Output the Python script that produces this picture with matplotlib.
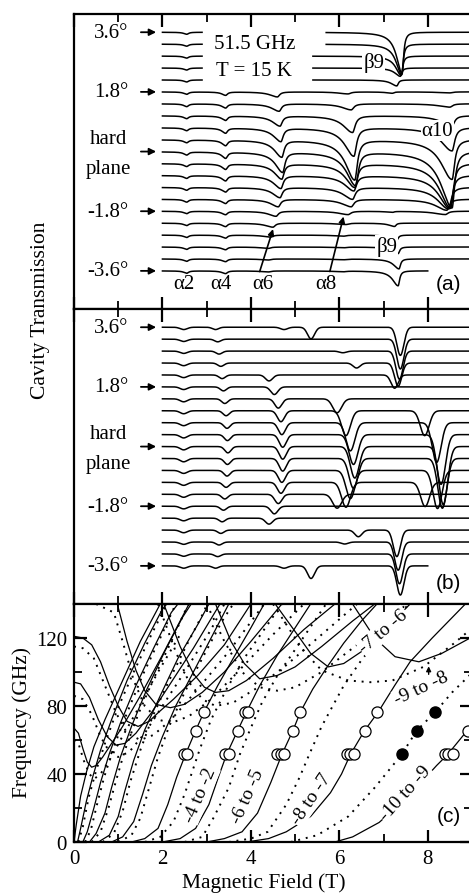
import numpy as np
import matplotlib.pyplot as plt

plt.rcParams['font.family'] = ['Liberation Serif', 'DejaVu Serif']
plt.rcParams['font.size'] = 15

# tilt angle of each trace (deg), top to bottom
angles = [3.6, 3.24, 2.88, 2.52, 2.16, 1.8, 1.44, 1.08, 0.72, 0.36, 0.0,
          -0.36, -0.72, -1.08, -1.44, -1.8, -2.16, -2.52, -2.88, -3.24, -3.6]
side_labels = ["3.6°", "1.8°", "-1.8°", "-3.6°"]
side_angles = [3.6, 1.8, -1.8, -3.6]

# ---- panel (a): measured spectra, dip centre (T) and depth (deg units) per trace
a_a2_B = [2.55] * 21
a_a2_d = [0.06, 0.06, 0.06, 0.06, 0.06, 0.07, 0.08, 0.08, 0.08, 0.08, 0.09,
          0.08, 0.08, 0.08, 0.08, 0.07, 0.07, 0.07, 0.07, 0.07, 0.07]
a_a4_B = [3.43] * 21
a_a4_d = [0, 0, 0, 0, 0, 0.10, 0.12, 0.13, 0.15, 0.16, 0.18,
          0.16, 0.15, 0.13, 0.12, 0.10, 0.10, 0.09, 0.08, 0.08, 0.08]
a_a6_B = [4.5, 4.5, 4.5, 4.5, 4.55, 4.6, 4.64, 4.66, 4.68, 4.7, 4.72,
          4.7, 4.68, 4.66, 4.62, 4.57, 4.5, 4.45, 4.4, 4.4, 4.4]
a_a6_d = [0, 0, 0, 0, 0, 0.15, 0.22, 0.3, 0.4, 0.5, 0.6,
          0.45, 0.38, 0.3, 0.22, 0.15, 0.12, 0.06, 0.04, 0.03, 0.03]
a_a8_B = [6.2, 6.2, 6.2, 6.2, 6.2, 6.2, 6.27, 6.3, 6.33, 6.35, 6.37,
          6.35, 6.33, 6.3, 6.27, 6.2, 6.15, 6.1, 6.1, 6.1, 6.1]
a_a8_d = [0, 0, 0, 0, 0, 0.06, 0.18, 0.5, 0.85, 1.2, 1.0,
          0.7, 0.45, 0.35, 0.22, 0.1, 0.04, 0.03, 0.02, 0.02, 0.02]
a_b9_B = [7.42, 7.41, 7.4, 7.38, 7.3, 7.2, 7.2, 7.2, 7.2, 7.2, 7.2,
          7.2, 7.2, 7.2, 7.2, 7.2, 7.25, 7.3, 7.33, 7.35, 7.33]
a_b9_d = [1.25, 0.92, 0.58, 0.25, 0.18, 0.04, 0, 0, 0, 0, 0,
          0, 0, 0, 0, 0.03, 0.1, 0.15, 0.2, 0.3, 0.45]
a_a10_B = [8.5, 8.5, 8.5, 8.5, 8.5, 8.5, 8.5, 8.55, 8.55, 8.55, 8.55,
           8.52, 8.5, 8.47, 8.43, 8.4, 8.4, 8.4, 8.4, 8.4, 8.4]
a_a10_d = [0, 0, 0, 0, 0, 0.03, 0.1, 0.3, 0.7, 1.2, 1.7,
           1.35, 1.0, 0.65, 0.33, 0.1, 0, 0, 0, 0, 0]
a_widths = [(0.08, 0.05), (0.1, 0.05), (0.2, 0.06), (0.25, 0.07), (0.15, 0.04), (0.3, 0.07)]
a_gap_start = [2.9, 2.9, 2.9, 2.9, 2.9]
a_gap_end = [5.7, 5.7, 5.4, 5.4, 5.4]
last_trace_end = 8.0

# ---- panel (b): simulated spectra
b_a2_B = [2.48] * 21
b_a2_d = [0.07, 0.07, 0.07, 0.08, 0.08, 0.08, 0.09, 0.09, 0.09, 0.1, 0.1,
          0.1, 0.09, 0.09, 0.09, 0.08, 0.08, 0.08, 0.07, 0.07, 0.07]
b_a4_B = [3.2, 3.25, 3.28, 3.32, 3.35, 3.38, 3.41, 3.44, 3.46, 3.47, 3.48,
          3.47, 3.46, 3.44, 3.41, 3.38, 3.35, 3.32, 3.28, 3.25, 3.2]
b_a4_d = [0.07, 0.08, 0.09, 0.1, 0.11, 0.12, 0.14, 0.15, 0.17, 0.18, 0.19,
          0.18, 0.17, 0.15, 0.14, 0.12, 0.11, 0.1, 0.09, 0.08, 0.07]
b_a6_B = [4.75, 4.7, 4.7, 4.7, 4.41, 4.53, 4.62, 4.68, 4.7, 4.72, 4.72,
          4.72, 4.7, 4.68, 4.62, 4.53, 4.41, 4.7, 4.7, 4.7, 4.75]
b_a6_d = [0.07, 0, 0, 0, 0.18, 0.23, 0.28, 0.33, 0.36, 0.38, 0.38,
          0.38, 0.36, 0.33, 0.28, 0.23, 0.18, 0, 0, 0, 0.07]
b_x_B = [5.36, 5.7, 6.08, 6.39, 6.4, 6.4, 6.4, 6.4, 6.4, 6.4, 6.4,
         6.4, 6.4, 6.4, 6.4, 6.4, 6.4, 6.43, 6.12, 5.7, 5.36]
b_x_d = [0.35, 0, 0.05, 0.15, 0, 0, 0, 0, 0, 0, 0,
         0, 0, 0, 0, 0, 0, 0.2, 0.06, 0, 0.38]
b_a8_B = [6.3, 6.3, 6.3, 6.3, 6.3, 6.3, 5.95, 6.15, 6.25, 6.32, 6.35,
          6.32, 6.25, 6.15, 5.95, 6.3, 6.3, 6.3, 6.3, 6.3, 6.3]
b_a8_d = [0, 0, 0, 0, 0, 0, 0.42, 0.75, 0.85, 0.9, 0.95,
          0.9, 0.85, 0.75, 0.42, 0, 0, 0, 0, 0, 0]
b_a10_B = [8.3, 8.3, 8.3, 8.3, 8.3, 8.3, 8.3, 7.93, 8.2, 8.3, 8.35,
           8.33, 8.22, 7.94, 8.3, 8.3, 8.3, 8.3, 8.3, 8.3, 8.3]
b_a10_d = [0, 0, 0, 0, 0, 0, 0, 0.75, 1.2, 1.5, 1.75,
           1.5, 1.15, 0.73, 0, 0, 0, 0, 0, 0, 0]
b_b9_B = [7.38, 7.38, 7.36, 7.33, 7.25, 7.3, 7.3, 7.3, 7.3, 7.3, 7.3,
          7.3, 7.3, 7.3, 7.3, 7.3, 7.25, 7.3, 7.33, 7.36, 7.38]
b_b9_d = [0.85, 0.9, 0.85, 0.7, 0.4, 0, 0, 0, 0, 0, 0,
          0, 0, 0, 0, 0, 0, 0.8, 0.85, 0.9, 0.88]
b_widths = [0.08, 0.07, 0.08, 0.08, 0.1, 0.1, 0.08]

# ---- panel (c): transition frequencies (T, GHz)
solid_rise_B = [
    [5.9, 6.3, 6.9, 7.4, 7.85, 8.2, 8.45, 8.89, 9.1],
    [3.9, 4.4, 4.8, 5.35, 5.8, 6.05, 6.25, 6.57, 6.88, 7.25, 7.6, 8.1, 8.85],
    [3.0, 3.4, 3.8, 4.15, 4.45, 4.7, 4.95, 5.12, 5.4, 5.75, 6.1, 6.5, 6.85],
    [2.0, 2.4, 2.75, 3.05, 3.25, 3.45, 3.7, 3.9, 4.2, 4.6, 5.0, 5.35],
    [1.3, 1.6, 1.9, 2.12, 2.32, 2.52, 2.75, 2.94, 3.25, 3.6, 4.0, 4.3],
    [0.85, 1.1, 1.35, 1.55, 1.75, 2.0, 2.3, 2.7, 3.1, 3.5],
    [0.55, 0.8, 1.0, 1.15, 1.35, 1.6, 1.95, 2.35, 2.8, 3.05],
    [0.35, 0.5, 0.7, 0.85, 1.05, 1.3, 1.65, 2.05, 2.45, 2.65],
    [0.2, 0.3, 0.45, 0.6, 0.8, 1.05, 1.4, 1.8, 2.2, 2.35],
    [0.08, 0.15, 0.28, 0.42, 0.6, 0.85, 1.2, 1.6, 2.0, 2.1],
    [0.0, 0.05, 0.15, 0.28, 0.45, 0.7, 1.1, 1.5, 1.95],
]
solid_rise_f = [
    [0, 3, 11.5, 23, 35, 45, 51.5, 65.5, 72],
    [0, 2, 6, 15, 29, 40, 51.5, 65.5, 76.5, 92, 106, 120, 140],
    [0, 2, 6, 17, 35, 51.5, 65.5, 76.5, 90, 104, 117, 130, 140],
    [0, 2, 8, 22, 37, 51.5, 65.5, 76.5, 92, 110, 126, 140],
    [0, 2, 8, 22, 38, 51.5, 65.5, 76.5, 92, 108, 126, 140],
    [0, 3, 12, 28, 45, 62, 80, 100, 120, 140],
    [0, 4, 15, 30, 48, 66, 86, 108, 128, 140],
    [0, 5, 17, 32, 50, 68, 90, 112, 132, 140],
    [0, 6, 20, 35, 52, 70, 92, 114, 135, 140],
    [0, 8, 24, 38, 54, 72, 95, 117, 137, 140],
    [0, 10, 27, 41, 56, 72, 95, 118, 140],
]
dot_rise_B = [
    [4.9, 5.5, 6.2, 6.8, 7.41, 7.75, 8.17, 8.55, 9.1],
    [3.5, 4.0, 4.38, 4.8, 5.1, 5.32, 5.6, 5.85, 6.1, 6.5, 7.0, 7.5],
    [2.5, 2.9, 3.15, 3.5, 3.75, 3.98, 4.25, 4.6, 5.1, 5.7],
    [1.6, 1.95, 2.25, 2.5, 2.72, 2.85, 3.1, 3.45, 3.9, 4.7],
    [1.0, 1.3, 1.5, 1.7, 1.9, 2.15, 2.5, 2.9, 3.35, 3.6],
    [0.65, 0.9, 1.1, 1.28, 1.5, 1.78, 2.15, 2.55, 2.95, 3.0],
    [0.4, 0.6, 0.78, 0.95, 1.15, 1.45, 1.8, 2.2, 2.55, 2.6],
    [0.25, 0.38, 0.52, 0.68, 0.9, 1.2, 1.55, 1.95, 2.3],
    [0.1, 0.2, 0.33, 0.5, 0.7, 0.98, 1.35, 1.75, 2.1],
]
dot_rise_f = [
    [0, 4, 15, 32, 51.5, 65.5, 76.5, 88, 102],
    [0, 2, 6, 22, 38, 51.5, 68, 80, 92, 107, 123, 140],
    [0, 3, 14, 32, 51.5, 66, 82, 98, 117, 140],
    [0, 3, 12, 28, 45, 55, 72, 90, 110, 140],
    [0, 4, 14, 32, 50, 68, 88, 108, 130, 140],
    [0, 5, 18, 36, 54, 74, 95, 116, 136, 140],
    [0, 6, 20, 36, 54, 75, 96, 118, 138, 140],
    [0, 7, 22, 38, 56, 76, 98, 120, 140],
    [0, 9, 26, 42, 58, 78, 100, 122, 140],
]
solid_u_B = [
    [0, 0.1, 0.2, 0.3, 0.4, 0.5, 0.65, 0.85, 1.1, 1.5, 2.0, 2.6],
    [0, 0.15, 0.35, 0.55, 0.75, 0.95, 1.15, 1.4, 1.75, 2.2, 2.7, 3.3],
    [0, 0.2, 0.4, 0.6, 0.8, 1.0, 1.2, 1.45, 1.7, 1.9, 2.25, 2.8, 3.4, 4.0],
    [0.98, 1.2, 1.4, 1.6, 1.85, 2.18, 2.5, 2.9, 3.4, 4.0, 4.7],
    [2.03, 2.4, 2.7, 2.95, 3.2, 3.5, 3.9, 4.5, 5.2, 5.9],
    [3.2, 3.55, 3.85, 4.2, 4.6, 5.0, 5.6, 6.3, 6.8],
    [4.55, 5.05, 5.35, 5.75, 6.1, 6.5, 7.0, 7.6],
    [6.3, 6.8, 7.26, 7.8, 8.32, 9.1],
]
solid_u_f = [
    [67, 64, 55, 47, 44, 45, 50, 58, 68, 86, 110, 140],
    [94, 93, 85, 72, 62, 57, 58, 64, 76, 94, 114, 140],
    [121, 120, 116, 106, 92, 80, 71, 68, 71, 76, 84, 98, 116, 140],
    [140, 118, 101, 89, 81, 79, 81, 88, 100, 118, 140],
    [140, 115, 99, 91, 88, 89, 95, 108, 125, 140],
    [140, 118, 105, 96, 98, 103, 115, 130, 140],
    [140, 122, 111, 103, 105, 112, 124, 140],
    [140, 120, 109, 106, 111, 122],
]
dot_u_B = [
    [0, 0.1, 0.22, 0.35, 0.45, 0.6, 0.8, 1.05, 1.4, 1.9, 2.4],
    [0, 0.2, 0.4, 0.6, 0.8, 1.0, 1.25, 1.6, 2.0, 2.5, 3.1, 3.4],
    [0, 0.2, 0.45, 0.7, 0.95, 1.2, 1.5, 1.8, 2.2, 2.8, 3.5, 4.3],
    [0.5, 0.9, 1.1, 1.35, 1.6, 1.9, 2.2, 2.6, 3.1, 3.7, 4.5, 5.2],
    [1.9, 2.3, 2.6, 2.9, 3.2, 3.6, 4.1, 4.8, 5.6, 6.4],
    [3.0, 3.4, 3.8, 4.2, 4.6, 5.0, 5.6, 6.4, 7.2, 7.6],
    [4.5, 4.9, 5.2, 5.6, 6.2, 6.7, 7.2, 7.9, 8.6, 9.1],
]
dot_u_f = [
    [60, 58, 48, 40, 37, 40, 48, 60, 76, 100, 122],
    [86, 84, 75, 62, 53, 50, 53, 64, 80, 100, 125, 140],
    [115, 114, 108, 92, 76, 64, 60, 63, 72, 90, 112, 140],
    [140, 135, 118, 95, 80, 72, 70, 74, 84, 100, 122, 140],
    [140, 112, 94, 84, 80, 82, 90, 104, 122, 140],
    [140, 118, 100, 91, 89, 91, 100, 116, 132, 140],
    [140, 124, 112, 101, 95, 94, 95, 103, 117, 128],
]
open_B = [2.48, 2.56, 2.75, 2.94, 3.42, 3.5, 3.7, 3.86, 3.93,
          4.6, 4.67, 4.74, 4.95, 5.1, 6.17, 6.24, 6.33, 6.57, 6.86,
          8.38, 8.46, 8.58, 8.9]
open_f = [51.5, 51.5, 65.5, 76.5, 51.5, 51.5, 65.5, 76.5, 76.5,
          51.5, 51.5, 51.5, 65.5, 76.5, 51.5, 51.5, 51.5, 65.5, 76.5,
          51.5, 51.5, 51.5, 65.5]
filled_B = [7.41, 7.75, 8.17]
filled_f = [51.5, 65.5, 76.5]
trans_labels = ["-4 to -2", "-6 to -5", "-8 to -7", "-10 to -9", "-9 to -8", "-7 to -6"]
trans_B = [2.86, 3.92, 5.36, 7.48, 7.86, 7.0]
trans_f = [28, 27.4, 25.6, 29, 90.5, 124]
trans_rot = [67, 66, 56, 48, 25, 40]

B = np.linspace(2.0, 9.0, 1400)


def dip_a(b0, depth, wl, wr):
    w = np.where(B < b0, wl, wr)
    return depth / (1 + ((B - b0) / w) ** 2)


def dip_b(b0, depth, s):
    return depth * np.exp(-0.5 * ((B - b0) / s) ** 2)


a_lines = list(zip([a_a2_B, a_a4_B, a_a6_B, a_a8_B, a_b9_B, a_a10_B],
                   [a_a2_d, a_a4_d, a_a6_d, a_a8_d, a_b9_d, a_a10_d], a_widths))
b_lines = list(zip([b_a2_B, b_a4_B, b_a6_B, b_x_B, b_a8_B, b_a10_B, b_b9_B],
                   [b_a2_d, b_a4_d, b_a6_d, b_x_d, b_a8_d, b_a10_d, b_b9_d], b_widths))

fig = plt.figure(figsize=(4.69, 8.95), dpi=100)
L = 74 / 469
W = (472 - 74) / 469
ax_a = fig.add_axes([L, 1 - 310 / 895, W, 295 / 895])
ax_b = fig.add_axes([L, 1 - 605 / 895, W, 295 / 895])
ax_c = fig.add_axes([L, 1 - 843 / 895, W, 238 / 895])

for ax in (ax_a, ax_b, ax_c):
    for sp in ax.spines.values():
        sp.set_linewidth(1.6)
    ax.set_xlim(0, 9)
    ax.set_xticks([0, 2, 4, 6, 8])
    ax.set_xticks([1, 3, 5, 7, 9], minor=True)
    ax.tick_params(which='major', direction='in', length=9, width=1.6, top=True, bottom=True)
    ax.tick_params(which='minor', direction='in', length=6, width=1.3, top=True, bottom=True)

# traces (a) and (b)
for ax, kind in ((ax_a, 'a'), (ax_b, 'b')):
    for i, ang in enumerate(angles):
        y = np.full_like(B, ang)
        if kind == 'a':
            for cen, dep, (wl, wr) in a_lines:
                y -= dip_a(cen[i], dep[i], wl, wr)
            if i < len(a_gap_start):
                y[(B > a_gap_start[i]) & (B < a_gap_end[i])] = np.nan
        else:
            for cen, dep, s in b_lines:
                y -= dip_b(cen[i], dep[i], s)
        if i == len(angles) - 1:
            y[B > last_trace_end] = np.nan
        ax.plot(B, y, color='k', lw=1.1)
    ax.set_ylim(-4.75, 4.15)
    ax.tick_params(left=False, labelleft=False, labelbottom=False)
    for lab, ang in zip(side_labels, side_angles):
        ax.text(1.23, ang, lab, ha='right', va='center')
        ax.annotate('', xy=(1.92, ang), xytext=(1.45, ang),
                    arrowprops=dict(arrowstyle='-|>', color='k', lw=1.3, mutation_scale=10))
    ax.text(0.78, 0.4, "hard", ha='center', va='center')
    ax.text(0.78, -0.5, "plane", ha='center', va='center')
    ax.annotate('', xy=(1.92, 0), xytext=(1.45, 0),
                arrowprops=dict(arrowstyle='-|>', color='k', lw=1.3, mutation_scale=10))

wb = dict(boxstyle='square,pad=0.05', fc='white', ec='none')
ax_a.text(4.09, 3.25, "51.5 GHz", ha='center', va='center')
ax_a.text(4.06, 2.44, "T = 15 K", ha='center', va='center')
ax_a.text(6.78, 2.71, "β9", ha='center', va='center', bbox=wb)
ax_a.text(8.22, 0.63, "α10", ha='center', va='center', bbox=wb)
ax_a.text(7.07, -2.85, "β9", ha='center', va='center', bbox=wb)
for lab, x in zip(["α2", "α4", "α6", "α8"], [2.48, 3.32, 4.27, 5.7]):
    ax_a.text(x, -3.98, lab, ha='center', va='center')
ax_a.annotate('', xy=(4.52, -2.26), xytext=(4.18, -3.7),
              arrowprops=dict(arrowstyle='-|>', color='k', lw=1.2, mutation_scale=9))
ax_a.annotate('', xy=(6.11, -1.88), xytext=(5.77, -3.7),
              arrowprops=dict(arrowstyle='-|>', color='k', lw=1.2, mutation_scale=9))
ax_a.text(8.47, -3.98, "(a)", ha='center', va='center', family='Liberation Sans')
ax_b.text(8.47, -4.1, "(b)", ha='center', va='center', family='Liberation Sans')

# panel (c)
for bx, fy in zip(solid_rise_B + solid_u_B, solid_rise_f + solid_u_f):
    ax_c.plot(bx, fy, color='k', lw=0.9)
for bx, fy in zip(dot_rise_B + dot_u_B, dot_rise_f + dot_u_f):
    ax_c.plot(bx, fy, color='k', lw=1.4, linestyle=(0, (1, 3)))
ax_c.plot(open_B, open_f, 'o', ms=8, mfc='white', mec='k', mew=0.9, clip_on=False)
ax_c.plot(filled_B, filled_f, 'o', ms=8, mfc='k', mec='k')
for lab, x, y, r in zip(trans_labels, trans_B, trans_f, trans_rot):
    ax_c.text(x, y, lab, rotation=r, ha='center', va='center', fontsize=14,
              rotation_mode='anchor', bbox=wb)
ax_c.annotate('', xy=(8.02, 105), xytext=(8.02, 97),
              arrowprops=dict(arrowstyle='-|>', color='k', lw=1.0, mutation_scale=7))
ax_c.text(8.47, 15.4, "(c)", ha='center', va='center', family='Liberation Sans')

ax_c.set_ylim(0, 140)
ax_c.set_yticks([0, 40, 80, 120])
ax_c.set_yticks([20, 60, 100], minor=True)
ax_c.tick_params(which='both', left=True, right=True)
ax_c.tick_params(which='major', labelsize=15, pad=5)

fig.text(264 / 469, 1 - 883 / 895, "Magnetic Field (T)", ha='center', va='center', fontsize=15.5)
fig.text(22 / 469, 1 - 723 / 895, "Frequency (GHz)", ha='center', va='center',
         rotation=90, fontsize=15.5)
fig.text(40 / 469, 1 - 310 / 895, "Cavity Transmission", ha='center', va='center',
         rotation=90, fontsize=15.5)

fig.savefig("out.png", dpi=100)
